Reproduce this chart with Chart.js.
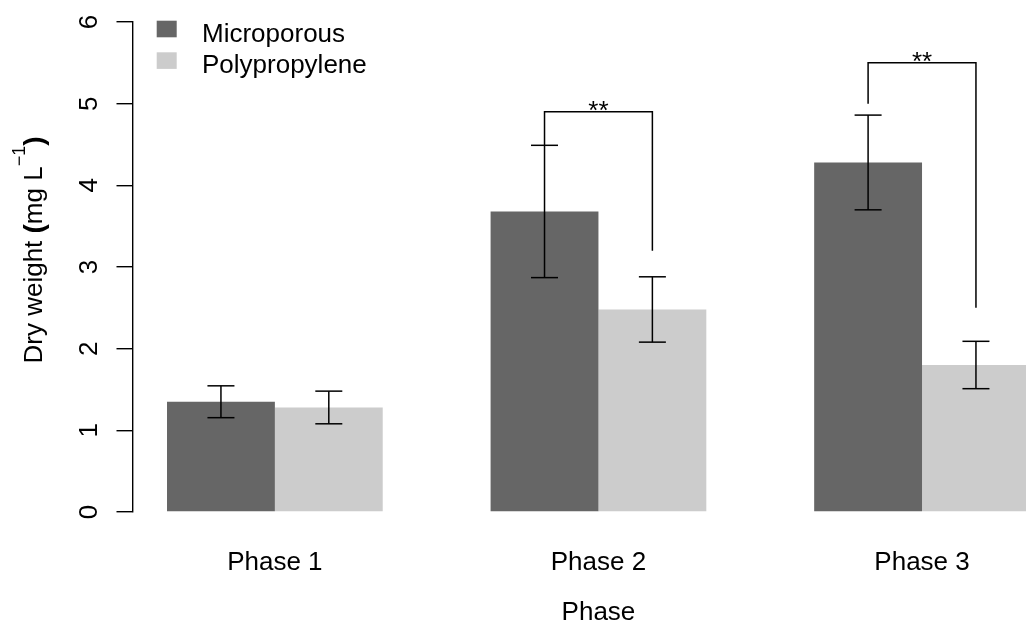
<!DOCTYPE html>
<html>
<head>
<meta charset="utf-8">
<script src="https://cdn.jsdelivr.net/npm/chart.js@4/dist/chart.umd.min.js"></script>
<style>
  html, body { margin: 0; padding: 0; background: #fff; overflow: hidden; width: 1026px; height: 628px; }
  #wrap { position: relative; width: 1080px; height: 628px; }
</style>
</head>
<body>
<div id="wrap"><canvas id="c" width="1080" height="628"></canvas></div>
<script>
// Dry weight per phase, mean and error (mg L^-1)
const phases = ['Phase 1', 'Phase 2', 'Phase 3'];
const microporous = [1.35, 3.68, 4.28];
const microporousErr = [0.195, 0.81, 0.58];
const polypropylene = [1.28, 2.48, 1.80];
const polypropyleneErr = [0.20, 0.40, 0.29];
const yTicks = [0, 1, 2, 3, 4, 5, 6];

// Significance brackets: phase index, bracket height, left / right leg ends
const sigPhase = [1, 2];
const sigTop = [4.9, 5.5];
const sigLeftEnd = [4.49, 5.0];
const sigRightEnd = [3.2, 2.5];
const sigLabel = ['**', '**'];

const FONT = "'Liberation Sans', Arial, Helvetica, sans-serif";
const COLORS = ['#666666', '#cccccc'];

// barplot layout: each group = 2 bars of width 1, preceded by a gap of 1
const groupCenter = i => 2 + 3 * i;

function seriesData(values) {
  return phases.map((p, i) => ({ x: groupCenter(i), y: values[i] }));
}

const overlay = {
  id: 'overlay',
  afterDatasetsDraw(chart) {
    const ctx = chart.ctx;
    const ys = chart.scales.y;
    ctx.save();
    ctx.strokeStyle = '#000';
    ctx.fillStyle = '#000';
    ctx.lineWidth = 1.5;
    const seg = (x1, y1, x2, y2) => { ctx.beginPath(); ctx.moveTo(x1, y1); ctx.lineTo(x2, y2); ctx.stroke(); };

    // error bars
    chart.data.datasets.forEach((ds, di) => {
      const meta = chart.getDatasetMeta(di);
      meta.data.forEach((bar, i) => {
        const v = ds.data[i].y, e = ds.err[i];
        const x = bar.x;
        const yHi = ys.getPixelForValue(v + e);
        const yLo = ys.getPixelForValue(v - e);
        seg(x, yHi, x, yLo);
        seg(x - 13.5, yHi, x + 13.5, yHi);
        seg(x - 13.5, yLo, x + 13.5, yLo);
      });
    });

    // significance brackets
    sigPhase.forEach((p, k) => {
      const xl = chart.getDatasetMeta(0).data[p].x;
      const xr = chart.getDatasetMeta(1).data[p].x;
      const yt = ys.getPixelForValue(sigTop[k]);
      ctx.beginPath();
      ctx.moveTo(xl, ys.getPixelForValue(sigLeftEnd[k]));
      ctx.lineTo(xl, yt);
      ctx.lineTo(xr, yt);
      ctx.lineTo(xr, ys.getPixelForValue(sigRightEnd[k]));
      ctx.stroke();
      ctx.font = '26px ' + FONT;
      ctx.textAlign = 'center';
      ctx.textBaseline = 'alphabetic';
      ctx.fillText(sigLabel[k], (xl + xr) / 2, yt + 7.5);
    });
    ctx.restore();
  },
  afterDraw(chart) {
    const ctx = chart.ctx;
    const ys = chart.scales.y;
    ctx.save();
    ctx.fillStyle = '#000';
    ctx.textBaseline = 'alphabetic';

    // rotated y tick labels
    ctx.font = '26px ' + FONT;
    ctx.textAlign = 'center';
    ys.ticks.forEach(t => {
      ctx.save();
      ctx.translate(97, ys.getPixelForValue(t.value));
      ctx.rotate(-Math.PI / 2);
      ctx.fillText(String(t.value), 0, 0);
      ctx.restore();
    });

    // y axis title with superscript
    const parts = [
      { t: 'Dry weight ', font: '26px ', dy: 0 },
      { t: '(', font: 'bold 28px ', dy: 1 },
      { t: 'mg L', font: '26px ', dy: 0 },
      { t: '\u22121', font: '18px ', dy: -17 },
      { t: ')', font: 'bold 28px ', dy: 1 }
    ];
    let total = 0;
    parts.forEach(p => { ctx.font = p.font + FONT; p.w = ctx.measureText(p.t).width; total += p.w; });
    ctx.save();
    ctx.translate(42, 250 + total / 2);
    ctx.rotate(-Math.PI / 2);
    ctx.textAlign = 'left';
    let cx = 0;
    parts.forEach(p => { ctx.font = p.font + FONT; ctx.fillText(p.t, cx, p.dy); cx += p.w; });
    ctx.restore();

    // legend
    ctx.font = '26px ' + FONT;
    ctx.textAlign = 'left';
    chart.data.datasets.forEach((ds, i) => {
      const top = 20.7 + i * 31.6;
      ctx.fillStyle = ds.backgroundColor;
      ctx.fillRect(156.7, top, 20, 16.6);
      ctx.fillStyle = '#000';
      ctx.fillText(ds.label, 202, top + 21);
    });
    ctx.restore();
  }
};

new Chart(document.getElementById('c'), {
  type: 'bar',
  data: {
    datasets: [
      { label: 'Microporous', data: seriesData(microporous), err: microporousErr,
        backgroundColor: COLORS[0], borderWidth: 0, categoryPercentage: 2 / 3, barPercentage: 1 },
      { label: 'Polypropylene', data: seriesData(polypropylene), err: polypropyleneErr,
        backgroundColor: COLORS[1], borderWidth: 0, categoryPercentage: 2 / 3, barPercentage: 1 }
    ]
  },
  options: {
    responsive: false,
    animation: false,
    devicePixelRatio: 1,
    layout: { padding: { left: 0, right: 15.6, top: 22, bottom: 0 } },
    plugins: { legend: { display: false }, tooltip: { enabled: false } },
    scales: {
      x: {
        type: 'linear',
        min: 0.68,
        max: 9.32,
        offset: false,
        bounds: 'data',
        afterBuildTicks: s => { s.ticks = phases.map((p, i) => ({ value: groupCenter(i) })); },
        afterFit: s => { s.height = 116; },
        grid: { display: false, drawTicks: false, offset: false },
        border: { display: false },
        ticks: {
          autoSkip: false, maxRotation: 0, padding: 35,
          font: { family: FONT, size: 26 }, color: '#000',
          callback: (v, i) => phases[i]
        },
        title: {
          display: true, text: 'Phase', color: '#000',
          font: { family: FONT, size: 26 }, padding: { top: 0, bottom: 0 }
        }
      },
      y: {
        min: 0,
        max: 6,
        afterBuildTicks: s => { s.ticks = yTicks.map(v => ({ value: v })); },
        afterFit: s => { s.width = 132.5; },
        grid: { drawOnChartArea: false, drawTicks: true, tickLength: 16, color: '#000', lineWidth: 1.4 },
        border: { display: true, color: '#000', width: 1.4 },
        ticks: { display: false }
      }
    }
  },
  plugins: [overlay]
});
</script>
</body>
</html>
